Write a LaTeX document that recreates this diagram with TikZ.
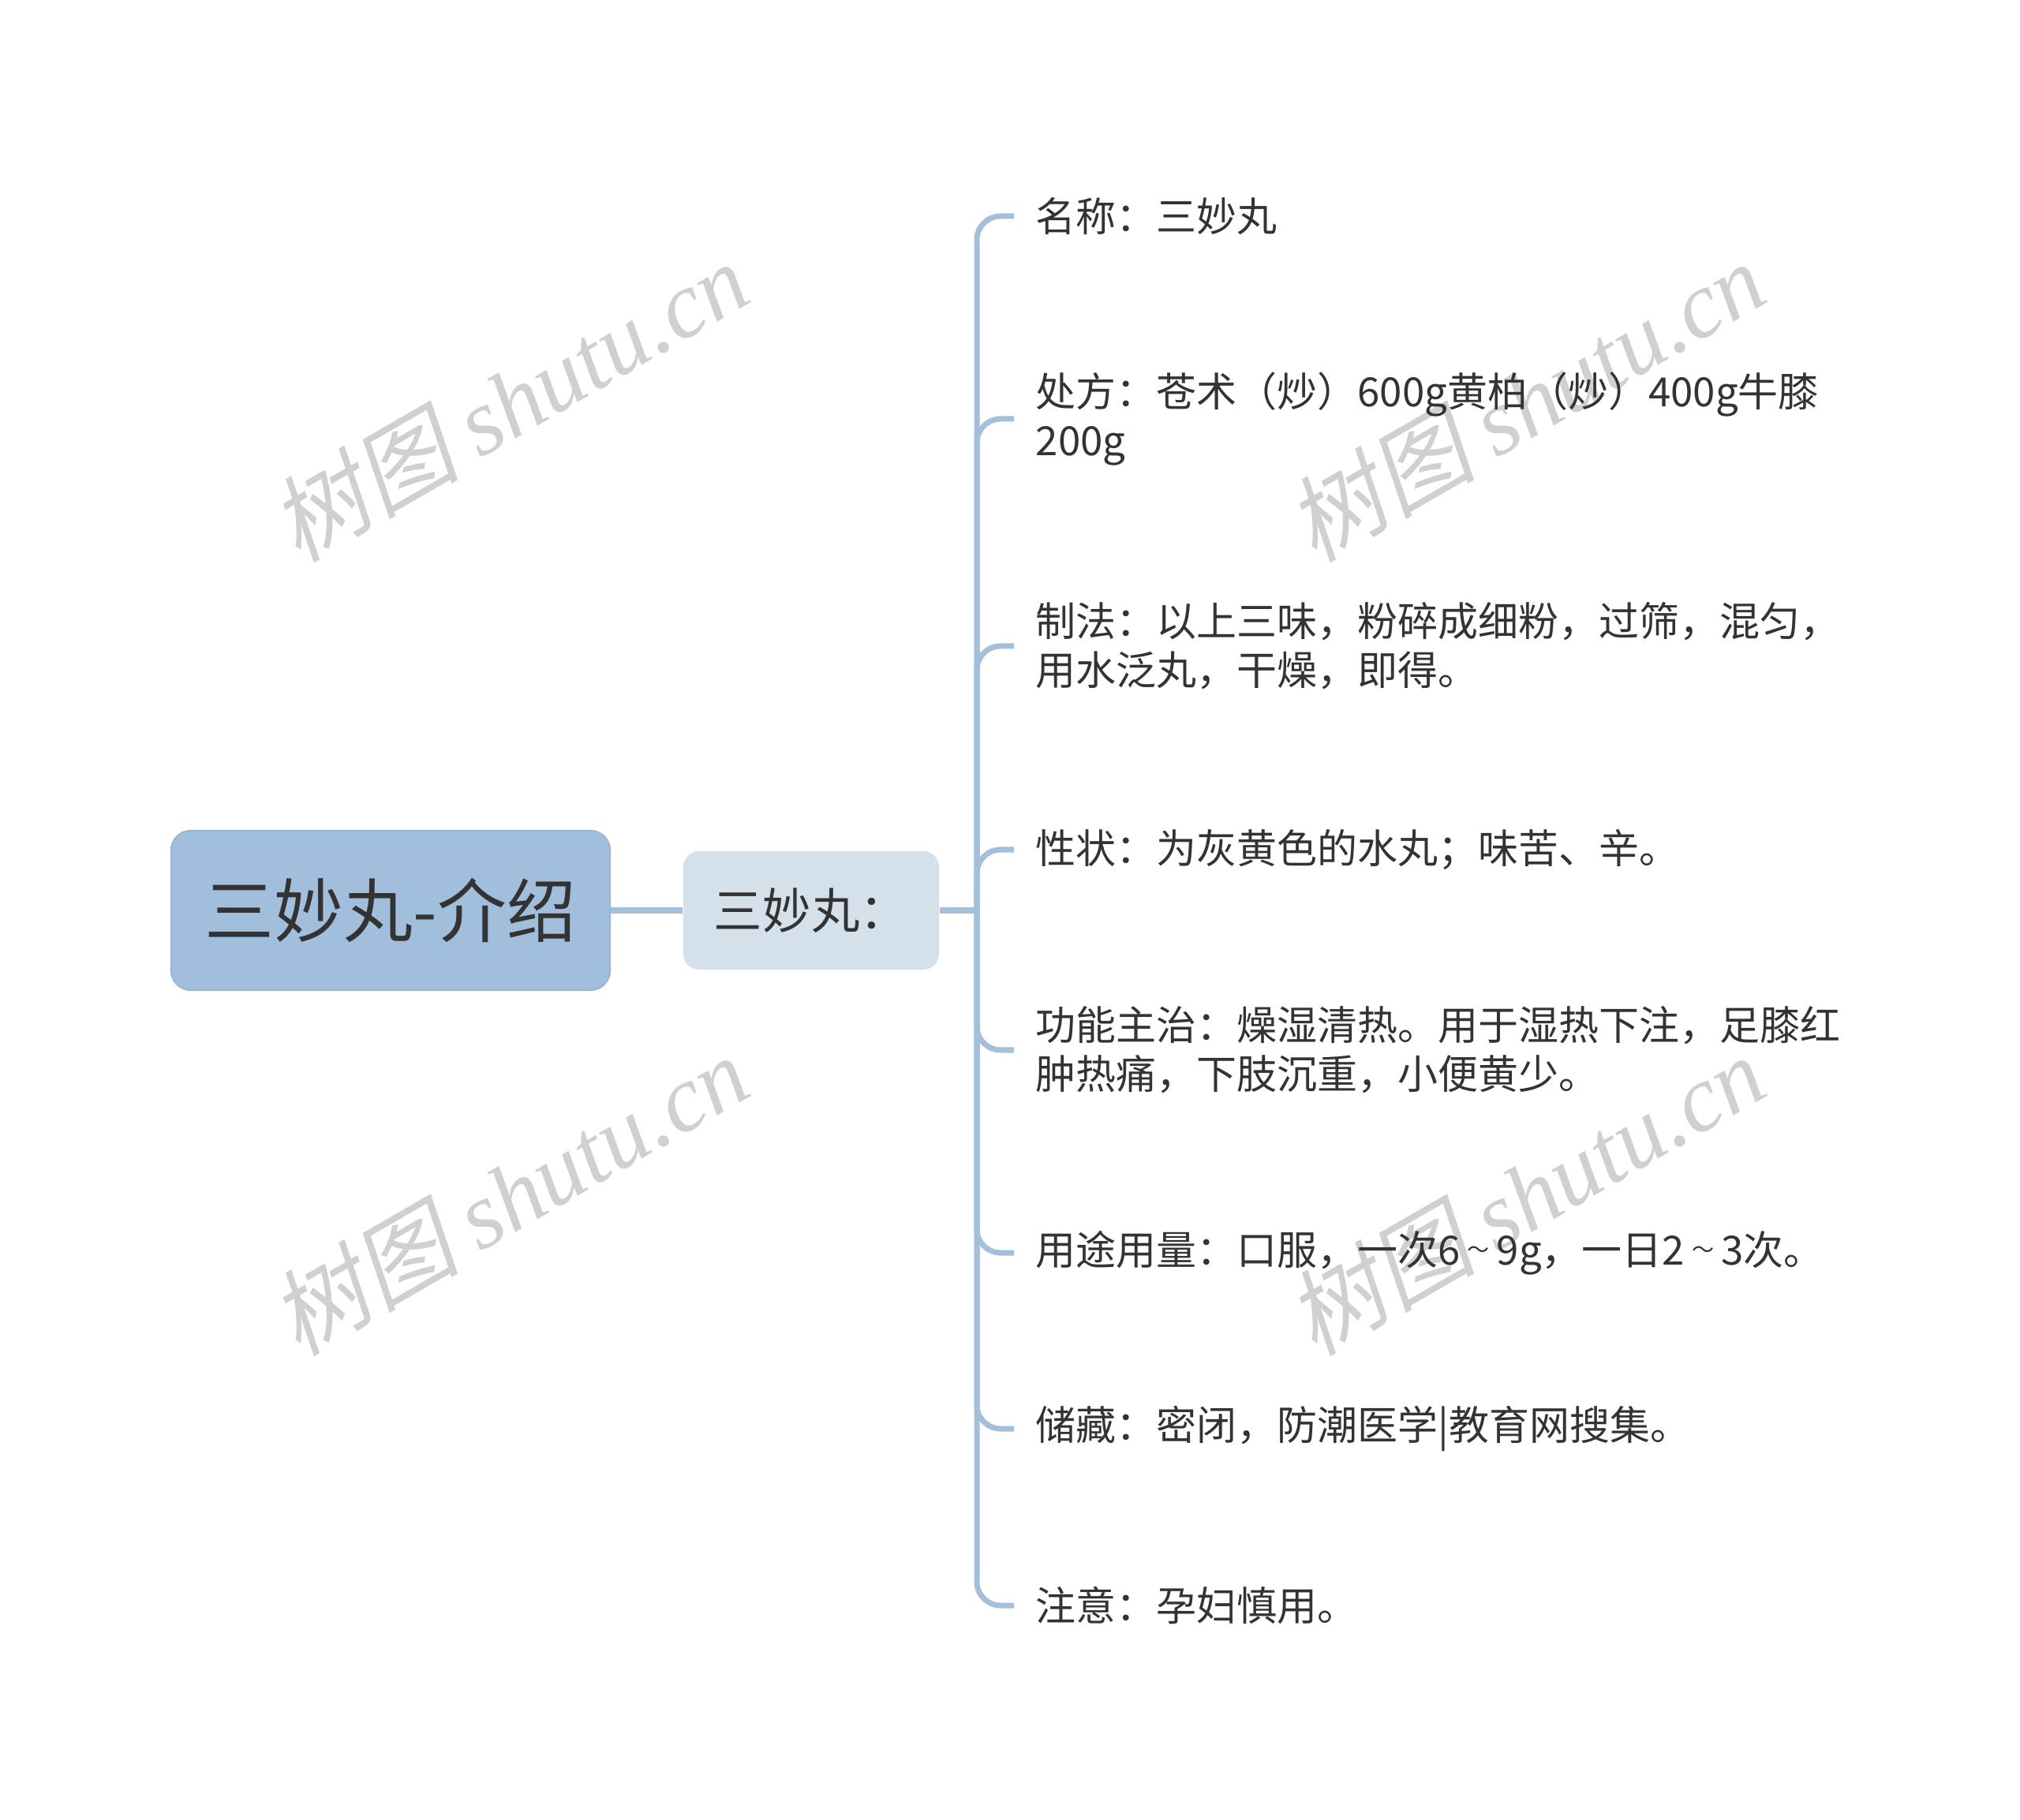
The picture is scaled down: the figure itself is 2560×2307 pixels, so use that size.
\documentclass[tikz,border=0pt]{standalone}
\usepackage{fontspec}
\setmainfont{Noto Sans CJK SC}
\newfontfamily\wmcjk{Noto Sans CJK SC}[FakeSlant=0.2]
\newfontfamily\wmlat{Liberation Serif}
\definecolor{rootfill}{RGB}{161,191,220}
\definecolor{rootdraw}{RGB}{150,182,214}
\definecolor{subfill}{RGB}{212,224,234}
\definecolor{linec}{RGB}{163,191,218}
\definecolor{txt}{RGB}{51,51,51}
\definecolor{wm}{RGB}{208,208,208}
\newcommand{\smalltilde}{\makebox[0.9em][c]{\raisebox{2.4pt}{\fontsize{8pt}{8pt}\selectfont ～}}}
\begin{document}
\begin{tikzpicture}[x=0.01cm,y=-0.01cm,
  rootbox/.style={draw=rootdraw,line width=0.6pt,fill=rootfill,rounded corners=0.25cm,
    minimum width=5.56cm,minimum height=2.02cm,inner sep=0pt,text=txt,
    font=\fontsize{25pt}{30pt}\selectfont},
  subbox/.style={fill=subfill,rounded corners=0.2cm,
    minimum width=3.24cm,minimum height=1.5cm,inner sep=0pt,text=txt,
    font=\fontsize{17.5pt}{20pt}\selectfont},
  leaf/.style={anchor=west,inner xsep=0.27cm,inner ysep=0pt,align=left,text=txt,
    font=\fontsize{14.5pt}{17.6pt}\selectfont},
  conn/.style={draw=linec,line width=0.07cm},
  branch/.style={draw=linec,line width=0.07cm,rounded corners=0.3cm},
  wmark/.style={text=wm,rotate=30,inner sep=0pt,font=\fontsize{34pt}{38pt}\selectfont}
]
\useasboundingbox (0,0) rectangle (2560,2307);
\fill[white] (0,0) rectangle (2560,2307);
% watermarks
\node[wmark] (wm1) at (645,508) {{\wmcjk 树图} {\wmlat\itshape shutu.cn}};
\node[wmark] (wm2) at (1933,508) {{\wmcjk 树图} {\wmlat\itshape shutu.cn}};
\node[wmark] (wm3) at (645,1514) {{\wmcjk 树图} {\wmlat\itshape shutu.cn}};
\node[wmark] (wm4) at (1933,1514) {{\wmcjk 树图} {\wmlat\itshape shutu.cn}};
% main nodes
\node[rootbox] (root) at (495,1154) {三妙丸-介绍};
\node[subbox] (sub) at (1028,1154) {三妙丸：};
\coordinate (J) at (1238,1154);
% leaves
\node[leaf] (l1) at (1285,274) {名称：三妙丸};
\node[leaf] (l2) at (1285,531) {处方：苍术（炒）600g黄柏（炒）400g牛膝\\200g};
\node[leaf] (l3) at (1285,819) {制法：以上三味，粉碎成细粉，过筛，混匀，\\用水泛丸，干燥，即得。};
\node[leaf] (l4) at (1285,1077) {性状：为灰黄色的水丸；味苦、辛。};
\node[leaf] (l5) at (1285,1331) {功能主治：燥湿清热。用于湿热下注，足膝红\\肿热痛，下肢沉重，小便黄少。};
\node[leaf] (l6) at (1285,1588) {用途用量：口服，一次6\smalltilde 9g，一日2\smalltilde 3次。};
\node[leaf] (l7) at (1285,1811) {储藏：密闭，防潮医学|教育网搜集。};
\node[leaf] (l8) at (1285,2035) {注意：孕妇慎用。};
% connectors
\draw[conn] (root.east) -- (sub.west);
\draw[conn] (sub.east) -- (J);
\foreach \n in {l1,l2,l3,l4,l5,l6,l7,l8}
  \draw[branch] (J) |- (\n.west);
\end{tikzpicture}
\end{document}
